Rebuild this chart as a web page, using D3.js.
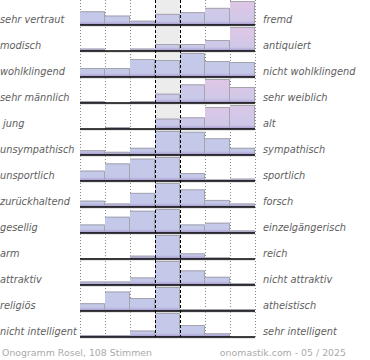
<!DOCTYPE html>
<html>
<head>
<meta charset="utf-8">
<script src="https://cdn.jsdelivr.net/npm/d3@7"></script>
<style>
  body { margin: 0; background: #fff; }
  text { font-family: 'DejaVu Sans', sans-serif; }
</style>
</head>
<body>
<div id="chart"></div>
<script>
// Eigenschaftspaare (links / rechts)
const leftLabels = ['sehr vertraut', 'modisch', 'wohlklingend', 'sehr männlich', ' jung', 'unsympathisch',
  'unsportlich', 'zurückhaltend', 'gesellig', 'arm', 'attraktiv', 'religiös', 'nicht intelligent'];
const rightLabels = ['fremd', 'antiquiert', 'nicht wohlklingend', 'sehr weiblich', 'alt', 'sympathisch',
  'sportlich', 'forsch', 'einzelgängerisch', 'reich', 'nicht attraktiv', 'atheistisch', 'sehr intelligent'];

// Stimmen je Stufe (7 Stufen, 108 Stimmen)
const votes = [
  [16, 11, 5, 13, 15, 20, 28],
  [5, 0, 5, 14, 14, 22, 48],
  [9, 9, 18, 17, 24, 16, 15],
  [3, 0, 3, 14, 28, 36, 24],
  [0, 3, 0, 16, 18, 34, 37],
  [6, 4, 9, 30, 29, 21, 9],
  [13, 22, 28, 30, 10, 2, 3],
  [9, 5, 20, 34, 25, 10, 5],
  [10, 19, 26, 28, 10, 12, 3],
  [2, 2, 10, 72, 17, 5, 0],
  [6, 6, 13, 41, 25, 14, 3],
  [12, 30, 20, 37, 3, 3, 3],
  [4, 4, 14, 52, 26, 8, 0]
];

// Farbton der Balken (0 = blau, 1 = rosa), aus dem Bild gelesen
const tint = [
  [0, 0, 0, 0.2, 0.2, 0.5, 1],
  [0, 0, 0, 0.3, 0.3, 0.5, 1],
  [0, 0, 0, 0, 0, 0, 0],
  [0, 0, 0, 0.2, 0.4, 1, 0.8],
  [0, 0, 0, 0.2, 0.3, 0.9, 0.8],
  [0, 0, 0, 0, 0, 0, 0],
  [0, 0, 0, 0, 0, 0, 0],
  [0, 0, 0, 0, 0, 0, 0],
  [0, 0, 0, 0, 0, 0, 0],
  [0, 0, 0, 0, 0, 0, 0],
  [0, 0, 0, 0, 0, 0, 0],
  [0, 0, 0, 0, 0, 0, 0],
  [0, 0, 0, 0, 0, 0, 0]
];

const footerLeft = 'Onogramm Rosel, 108 Stimmen';
const footerRight = 'onomastik.com - 05 / 2025';

const w = 370;
const h = 360;
const steps = d3.range(7);

const svg = d3.select('#chart')
  .append('svg')
  .attr('width', w)
  .attr('height', h);

const x = d3.scaleBand()
  .domain(steps)
  .range([80, 255]);

const row = d3.scaleBand()
  .domain(d3.range(leftLabels.length))
  .range([-1, 337]);

const barMax = 24;
const tone = d3.scaleLinear().domain([0, 1]).range(['#c4c9e9', '#e0c6e6']);
const defs = svg.append('defs');

const bottomGrad = defs.append('linearGradient')
  .attr('id', 'bottom')
  .attr('x1', 0).attr('y1', 0).attr('x2', 0).attr('y2', 1);
bottomGrad.append('stop').attr('offset', '0%').attr('stop-color', '#a898cc').attr('stop-opacity', 0);
bottomGrad.append('stop').attr('offset', '100%').attr('stop-color', '#9c8cc4').attr('stop-opacity', 0.9);

// mittlere Spalte grau hinterlegt
svg.append('rect')
  .attr('x', x(3))
  .attr('y', 0)
  .attr('width', x.bandwidth())
  .attr('height', row.range()[1])
  .attr('fill', '#ececec');

// senkrechte Hilfslinien
[0, 1, 2, 5, 6, 7].forEach(i => {
  const xx = 80 + i * x.bandwidth() + 0.5;
  svg.append('line')
    .attr('x1', xx).attr('x2', xx)
    .attr('y1', 0).attr('y2', row.range()[1])
    .attr('stroke', '#888')
    .attr('stroke-dasharray', '1,2');
});

votes.forEach((vals, r) => {
  const base = row(r) + row.bandwidth();
  const y = d3.scaleLinear()
    .domain([0, d3.max(vals)])
    .range([0, barMax]);

  const g = svg.append('g');

  vals.forEach((v, c) => {
    if (v <= 0) return;
    const bh = y(v);
    const top = base - bh;
    const id = `g${r}_${c}`;
    const grad = defs.append('linearGradient')
      .attr('id', id)
      .attr('x1', 0).attr('y1', 0).attr('x2', 0).attr('y2', 1);
    grad.append('stop').attr('offset', '0%').attr('stop-color', tone(tint[r][c]));
    grad.append('stop').attr('offset', '100%').attr('stop-color', tone(tint[r][c] * 0.3));

    g.append('rect')
      .attr('x', x(c))
      .attr('y', top)
      .attr('width', x.bandwidth())
      .attr('height', bh)
      .attr('fill', `url(#${id})`);

    g.append('rect')
      .attr('x', x(c))
      .attr('y', base - Math.min(4, bh))
      .attr('width', x.bandwidth())
      .attr('height', Math.min(4, bh))
      .attr('fill', 'url(#bottom)');

    if (bh > 1.5) {
      g.append('path')
        .attr('d', `M${x(c)},${top + 0.5}H${x(c) + x.bandwidth() - 0.5}V${base}`)
        .attr('fill', 'none')
        .attr('stroke', '#a4a4ac')
        .attr('stroke-width', 1);
    }
  });

  // Grundlinie
  g.append('line')
    .attr('x1', 80).attr('x2', 255)
    .attr('y1', base + 1).attr('y2', base + 1)
    .attr('stroke', '#ccc')
    .attr('stroke-width', 1);
  g.append('line')
    .attr('x1', 80).attr('x2', 255)
    .attr('y1', base).attr('y2', base)
    .attr('stroke', '#000')
    .attr('stroke-width', 1.6);

  svg.append('text')
    .attr('x', 0)
    .attr('y', base - 2)
    .style('font-size', '9.8px')
    .style('font-style', 'italic')
    .attr('fill', '#5e5e5e')
    .attr('xml:space', 'preserve')
    .text(leftLabels[r]);

  svg.append('text')
    .attr('x', 263)
    .attr('y', base - 2)
    .style('font-size', '9.8px')
    .style('font-style', 'italic')
    .attr('fill', '#5e5e5e')
    .text(rightLabels[r]);
});

// gestrichelte Linien um die Mitte
[3, 4].forEach(i => {
  const xx = x(i) + 0.5;
  svg.append('line')
    .attr('x1', xx).attr('x2', xx)
    .attr('y1', 0).attr('y2', row.range()[1])
    .attr('stroke', '#000')
    .attr('stroke-dasharray', '3,2');
});

svg.append('text')
  .attr('x', 2)
  .attr('y', 356)
  .style('font-size', '9.4px')
  .attr('fill', '#aaa')
  .text(footerLeft);

svg.append('text')
  .attr('x', 346)
  .attr('y', 356)
  .style('font-size', '9.4px')
  .style('text-anchor', 'end')
  .attr('fill', '#aaa')
  .text(footerRight);
</script>
</body>
</html>
